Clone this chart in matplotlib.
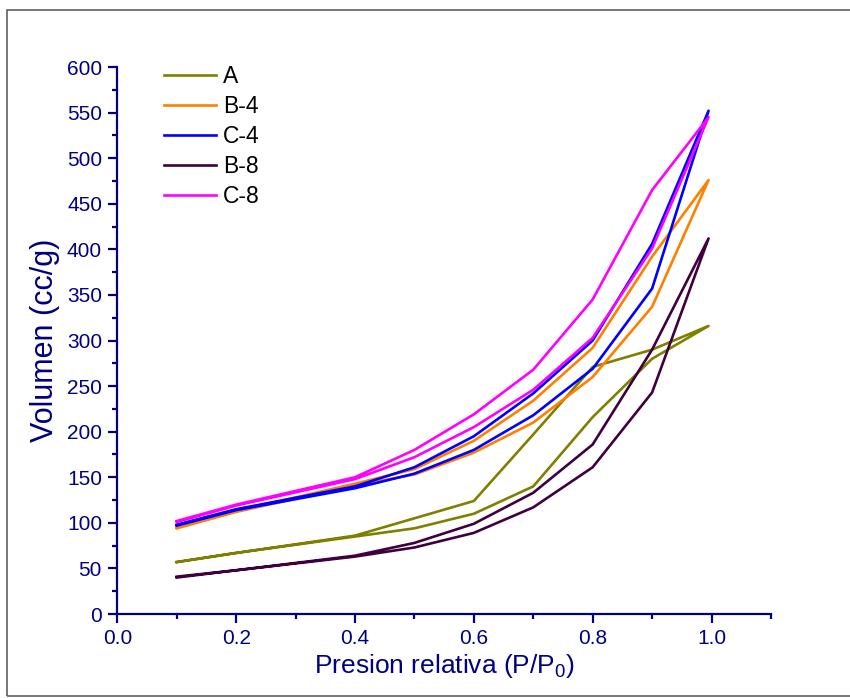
import matplotlib
matplotlib.use("Agg")
import matplotlib.pyplot as plt
from matplotlib.patches import Rectangle
from matplotlib.ticker import MultipleLocator, FormatStrFormatter

plt.rcParams['font.family'] = ['Liberation Sans', 'DejaVu Sans']

# relative pressure points (adsorption goes up, desorption comes back)
p_rel = [0.1, 0.2, 0.4, 0.5, 0.6, 0.7, 0.8, 0.9, 0.995]

labels = ['A', 'B-4', 'C-4', 'B-8', 'C-8']
colors = ['#808000', '#FF8000', '#0000FF', '#400040', '#FF00FF']

ads_A = [57, 67, 85, 94, 110, 140, 216, 280, 316]
des_A = [57, 67, 86, 105, 124, 197, 271, 290, 316]
ads_B4 = [94, 112, 141, 153, 177, 210, 260, 337, 476]
des_B4 = [95, 113, 143, 159, 190, 234, 292, 392, 476]
ads_C4 = [97, 114, 138, 154, 180, 218, 269, 357, 552]
des_C4 = [98, 115, 140, 161, 195, 242, 300, 406, 552]
ads_B8 = [41, 48, 63, 73, 89, 117, 161, 243, 412]
des_B8 = [40, 48, 64, 78, 99, 133, 186, 290, 412]
ads_C8 = [101, 119, 148, 172, 205, 246, 303, 401, 545]
des_C8 = [102, 120, 150, 180, 219, 268, 345, 465, 545]

ads = [ads_A, ads_B4, ads_C4, ads_B8, ads_C8]
des = [des_A, des_B4, des_C4, des_B8, des_C8]

navy = '#000080'

fig = plt.figure(figsize=(8.5, 6.98), dpi=100)
ax = fig.add_axes([0.138, 0.1203, 0.769, 0.7837])

for i in range(len(labels)):
    x = p_rel + p_rel[::-1][1:]
    y = ads[i] + des[i][::-1][1:]
    ax.plot(x, y, color=colors[i], lw=1.9, label=labels[i])

ax.set_xlim(0, 1.1)
ax.set_ylim(0, 600)
ax.xaxis.set_major_locator(MultipleLocator(0.2))
ax.xaxis.set_minor_locator(MultipleLocator(0.1))
ax.yaxis.set_major_locator(MultipleLocator(50))
ax.yaxis.set_minor_locator(MultipleLocator(25))
ax.xaxis.set_major_formatter(FormatStrFormatter('%.1f'))

for s in ['top', 'right']:
    ax.spines[s].set_visible(False)
for s in ['left', 'bottom']:
    ax.spines[s].set_color(navy)
    ax.spines[s].set_linewidth(1.6)
ax.tick_params(which='major', direction='out', length=6.5, width=1.6, color=navy,
               labelcolor=navy, labelsize=15, pad=4.5)
ax.tick_params(which='minor', direction='out', length=3.8, width=1.6, color=navy)

ax.set_xlabel(r'Presion relativa (P/P$_\mathregular{0}$)', fontsize=19, color=navy)
ax.set_ylabel('Volumen (cc/g)', fontsize=22, color=navy)
ax.xaxis.set_label_coords(0.5, -0.069)
ax.yaxis.set_label_coords(-0.088, 0.5)

ax.legend(loc='upper left', bbox_to_anchor=(0.071, 1.003), frameon=False,
          fontsize=16.5, handlelength=2.3, handletextpad=0.3, labelspacing=0.3,
          borderaxespad=0.0, borderpad=0.0)

fig.patches.append(Rectangle((7 / 850, 2 / 698), 1.2, 686 / 698, transform=fig.transFigure,
                             fill=False, edgecolor='#606060', lw=1.2, clip_on=False))

fig.savefig('out.png', dpi=100)
